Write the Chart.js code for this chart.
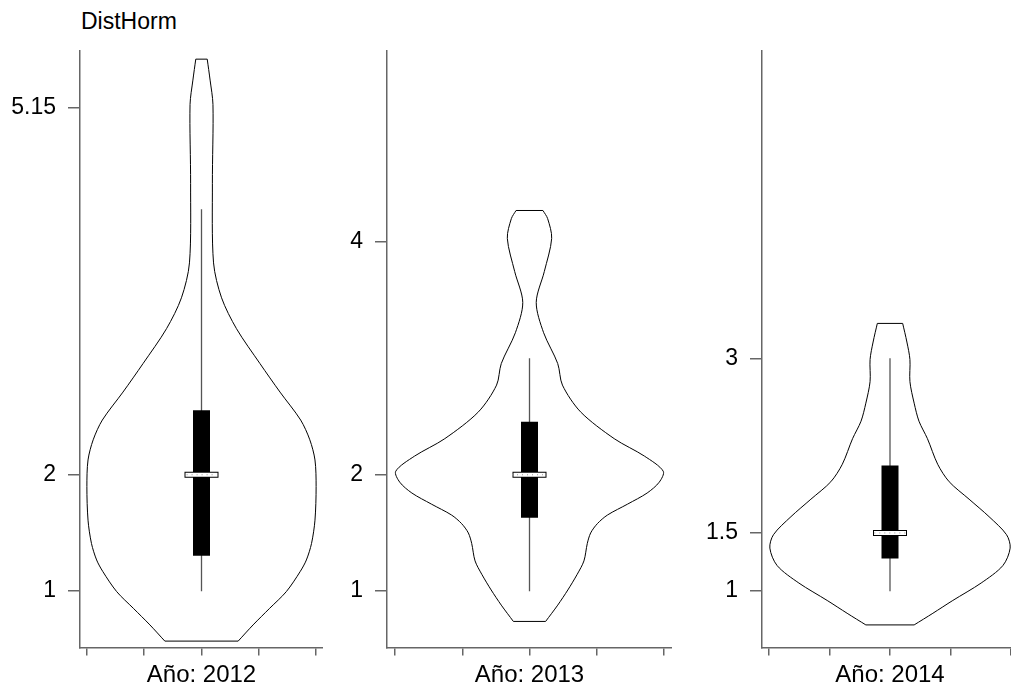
<!DOCTYPE html>
<html>
<head>
<meta charset="utf-8">
<script src="https://cdn.jsdelivr.net/npm/chart.js@4/dist/chart.umd.min.js"></script>
<style>
  html, body { margin: 0; padding: 0; background: #fff; overflow: hidden; }
  body { width: 1011px; height: 687px; position: relative; }
  .panel { position: absolute; top: 0; height: 687px; }
  #title { position: absolute; left: 81px; top: 8px; line-height: 30px;
           font: 23px "Liberation Sans", Arial, sans-serif; color: #000; }
</style>
</head>
<body>
<div id="title">DistHorm</div>
<div class="panel" style="left:0px;width:323px"><canvas id="c2012"></canvas></div>
<div class="panel" style="left:307px;width:365px"><canvas id="c2013"></canvas></div>
<div class="panel" style="left:682px;width:336px"><canvas id="c2014"></canvas></div>
<script>
// labels
var yearLabels = ["Año: 2012", "Año: 2013", "Año: 2014"];
var xTicks = [-2, -1, 0, 1, 2];

// y tick labels per panel
var yTicks2012 = [1, 2, 5.15];
var yTicks2013 = [1, 2, 4];
var yTicks2014 = [1, 1.5, 3];

// violin outlines: value levels (bottom -> top) and half widths
var levels2012 = [0.571, 0.71, 0.853, 0.996, 1.167, 1.268, 1.41, 1.61, 1.898, 2.127, 2.30, 2.47, 2.71, 2.955, 3.255, 3.52, 3.82, 4.50, 5.18, 5.39, 5.57];
var width2012  = [0.64, 0.90, 1.19, 1.48, 1.72, 1.83, 1.92, 1.98, 2.00, 1.98, 1.89, 1.73, 1.37, 1.02, 0.61, 0.35, 0.21, 0.19, 0.20, 0.15, 0.10];

var levels2013 = [0.74, 0.88, 1.01, 1.145, 1.26, 1.41, 1.50, 1.58, 1.654, 1.748, 1.843, 1.936, 2.03, 2.16, 2.31, 2.54, 2.77, 2.955, 3.22, 3.48, 3.745, 4.03, 4.20, 4.27];
var width2013  = [0.24, 0.42, 0.57, 0.71, 0.81, 0.86, 0.91, 1.01, 1.16, 1.46, 1.75, 1.93, 1.99, 1.71, 1.26, 0.76, 0.49, 0.42, 0.21, 0.10, 0.22, 0.33, 0.27, 0.20];

var levels2014 = [0.71, 0.81, 0.92, 1.07, 1.22, 1.37, 1.485, 1.64, 1.79, 1.94, 2.09, 2.31, 2.46, 2.615, 2.80, 2.99, 3.14, 3.30];
var width2014  = [0.40, 0.71, 1.04, 1.51, 1.87, 1.99, 1.93, 1.64, 1.31, 0.98, 0.79, 0.62, 0.48, 0.40, 0.33, 0.33, 0.28, 0.21];

// box stats: min, q1, median, q3, max
var stats2012 = [1, 1.305, 2, 2.555, 4.28];
var stats2013 = [1, 1.63, 2, 2.456, 3.0];
var stats2014 = [1, 1.28, 1.5, 2.08, 3.0];

var yMin = 0.516, yMax = 5.64, xLim = 2.12;
var FONT = "'Liberation Sans', Arial, sans-serif";

function side(levels, widths, sign) {
  return levels.map(function (v, i) { return { x: sign * widths[i], y: v }; });
}

function makeViolin(id, label, levels, widths, stats, yTicks) {
  var n = levels.length - 1;
  var markHalf = 0.26;
  var datasets = [
    // median marker (drawn last = on top)
    { data: [{ x: -markHalf, y: stats[2] }, { x: markHalf, y: stats[2] }], borderColor: "#999", borderWidth: 1, borderDash: [1, 4] },
    { data: [{ x: 0, y: stats[2] }], pointStyle: "line", pointRadius: 16, borderColor: "#fff", pointBorderWidth: 4, showLine: false },
    { data: [{ x: 0, y: stats[2] }], pointStyle: "line", pointRadius: 17, borderColor: "#000", pointBorderWidth: 6, showLine: false },
    // box
    { data: [{ x: 0, y: stats[1] }, { x: 0, y: stats[3] }], borderColor: "#000", borderWidth: 17, borderCapStyle: "butt" },
    // whisker
    { data: [{ x: 0, y: stats[0] }, { x: 0, y: stats[4] }], borderColor: "#555", borderWidth: 1.3 },
    // violin outline
    { data: side(levels, widths, -1), borderColor: "#000", borderWidth: 1, tension: 0.3 },
    { data: side(levels, widths, 1), borderColor: "#000", borderWidth: 1, tension: 0.3 },
    { data: [{ x: -widths[n], y: levels[n] }, { x: widths[n], y: levels[n] }], borderColor: "#000", borderWidth: 1 },
    { data: [{ x: -widths[0], y: levels[0] }, { x: widths[0], y: levels[0] }], borderColor: "#000", borderWidth: 1 }
  ];
  datasets.forEach(function (d) {
    if (d.showLine === undefined) { d.showLine = true; d.pointRadius = 0; }
    d.pointHoverRadius = 0;
    if (d.tension === undefined) d.tension = 0;
  });

  new Chart(document.getElementById(id).getContext("2d"), {
    type: "scatter",
    data: { datasets: datasets },
    options: {
      responsive: true,
      maintainAspectRatio: false,
      animation: false,
      events: [],
      layout: { autoPadding: false, padding: { top: 51, left: 0, right: 0, bottom: 0 } },
      plugins: { legend: { display: false }, tooltip: { enabled: false } },
      scales: {
        x: {
          type: "linear",
          min: -xLim,
          max: xLim,
          afterBuildTicks: function (s) { s.ticks = xTicks.map(function (v) { return { value: v }; }); },
          afterFit: function (s) { s.height = 39.5; },
          ticks: { autoSkip: false, callback: function () { return ""; }, padding: 0 },
          grid: { drawOnChartArea: false, drawTicks: true, tickLength: 8, color: "#666", lineWidth: 1.5 },
          border: { display: true, color: "#666", width: 1.5 },
          title: { display: true, text: label, color: "#000", padding: 0,
                   font: { family: FONT, size: 24, lineHeight: 1 } }
        },
        y: {
          type: "linear",
          min: yMin,
          max: yMax,
          afterBuildTicks: function (s) { s.ticks = yTicks.map(function (v) { return { value: v }; }); },
          afterFit: function (s) { s.width = 80; },
          ticks: { autoSkip: false, padding: 12, color: "#000",
                   font: { family: FONT, size: 23 },
                   callback: function (v) { return String(v); } },
          grid: { drawOnChartArea: false, drawTicks: true, tickLength: 12, color: "#666", lineWidth: 1.5 },
          border: { display: true, color: "#666", width: 1.5 }
        }
      }
    }
  });
}

makeViolin("c2012", yearLabels[0], levels2012, width2012, stats2012, yTicks2012);
makeViolin("c2013", yearLabels[1], levels2013, width2013, stats2013, yTicks2013);
makeViolin("c2014", yearLabels[2], levels2014, width2014, stats2014, yTicks2014);
</script>
</body>
</html>
